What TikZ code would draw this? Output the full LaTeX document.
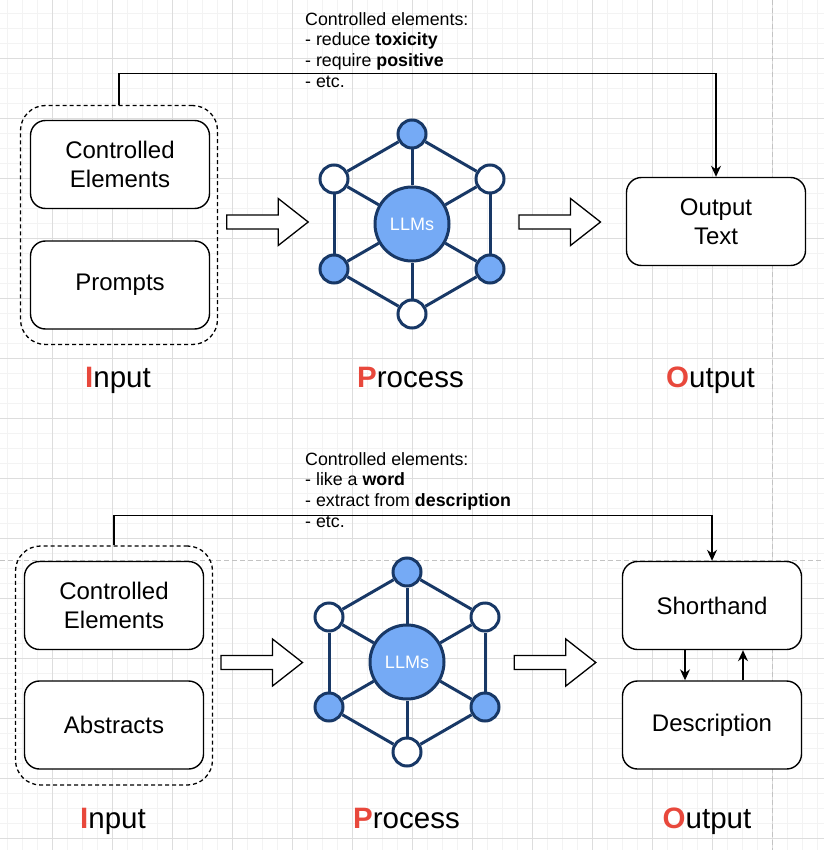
\documentclass[tikz,border=0pt]{standalone}
\usepackage{fontspec}
\setmainfont{Liberation Sans}
\usepackage{tikz}
\usetikzlibrary{positioning,arrows.meta}

\definecolor{netline}{RGB}{24,56,102}
\definecolor{netfill}{RGB}{117,170,245}
\definecolor{ipored}{RGB}{232,72,60}
\definecolor{gridminor}{RGB}{243,243,243}
\definecolor{gridmajor}{RGB}{221,221,221}
\definecolor{pagebreak}{RGB}{195,195,195}

\newcommand{\ipo}[1]{\textcolor{ipored}{\textbf{#1}}}

\tikzset{
	box/.style={draw, line width=1.4pt, rounded corners=15pt, fill=white,
		minimum width=179pt, minimum height=88pt, align=center,
		font=\fontsize{24}{29}\selectfont},
	group/.style={draw, line width=1.3pt, dash pattern=on 4pt off 3pt,
		rounded corners=25pt, minimum width=197pt, minimum height=239pt},
	neuron/.style={circle, draw=netline, line width=3pt, minimum size=28pt, inner sep=0pt},
	hub/.style={neuron, fill=netfill, minimum size=74pt, text=white,
		font=\fontsize{18}{20}\selectfont},
	net/.style={draw=netline, line width=3pt},
	conn/.style={line width=1.3pt},
	hollow/.style={draw, line width=1.3pt, fill=white, line join=miter},
	note/.style={align=left, inner sep=0pt, font=\fontsize{17.8}{20.8}\selectfont},
	stage/.style={inner sep=0pt, font=\fontsize{29.5}{32}\selectfont}
}

\begin{document}
\begin{tikzpicture}[x=1pt, y=-1pt, >={Stealth[length=11pt,width=10pt]}]
	\useasboundingbox (0,0) rectangle (824,850);
	
	% grid
	\foreach \gx in {7.3,22.3,...,824}
	\draw [gridminor, line width=1pt] (\gx,0) -- (\gx,850);
	\foreach \gy in {13.3,28.3,...,850}
	\draw [gridminor, line width=1pt] (0,\gy) -- (824,\gy);
	\foreach \gx in {52.3,112.3,...,824}
	\draw [gridmajor, line width=1pt] (\gx,0) -- (\gx,850);
	\foreach \gy in {58.3,118.3,...,850}
	\draw [gridmajor, line width=1pt] (0,\gy) -- (824,\gy);
	\draw [pagebreak, line width=1pt, dash pattern=on 5pt off 3pt] (772.5,0) -- (772.5,850);
	\draw [pagebreak, line width=1pt, dash pattern=on 5pt off 3pt] (0,560.5) -- (824,560.5);
	
	% inputs
	\node [group] (top-in) at (119,225) {};
	\node [box] (top-ctrl) at (120,164.5) {Controlled\\Elements};
	\node [box] (top-prompt) at (120,285) {Prompts};
	\node [group] (bot-in) at (114,665.5) {};
	\node [box] (bot-ctrl) at (114,605.5) {Controlled\\Elements};
	\node [box] (bot-abs) at (114,725) {Abstracts};
	
	% outputs
	\node [box] (top-out) at (716,221.5) {Output\\Text};
	\node [box] (bot-short) at (712,605.5) {Shorthand};
	\node [box] (bot-desc) at (712,725) {Description};
	
	% LLM networks
	\foreach \p/\cx/\cy in {top/412/224, bot/407/662} {
		\node [hub] (\p-llm) at (\cx,\cy) {LLMs};
		\foreach \dx/\dy/\f [count=\i] in {0/-90/netfill, -78/-45/white, -78/45/netfill,
			0/90/white, 78/45/netfill, 78/-45/white}
		\node [neuron, fill=\f] (\p-n\i) at ({\cx+\dx},{\cy+\dy}) {};
		\foreach \i [evaluate=\i as \j using {int(mod(\i,6)+1)}] in {1,...,6} {
			\draw [net] (\p-n\i) -- (\p-n\j);
			\draw [net] (\p-llm) -- (\p-n\i);
		}
	}
	
	% hollow arrows
	\foreach \ax/\ay in {226.7/222, 519/222, 221/662.5, 514.3/662.5}
	\draw [hollow] (\ax,{\ay-7}) -- ++(51.5,0) -- ++(0,-16.5) -- ++(30,23.5)
	-- ++(-30,23.5) -- ++(0,-16.5) -- ++(-51.5,0) -- cycle;
	
	% controlled elements
	\draw [conn, ->] (top-in.north) -- ++(0,-31) -| (top-out.north);
	\draw [conn, ->] (bot-in.north) -- ++(0,-30) -| (bot-short.north);
	\draw [conn, ->] ([xshift=-27pt]bot-short.south) -- ([xshift=-27pt]bot-desc.north);
	\draw [conn, ->] ([xshift=31pt]bot-desc.north) -- ([xshift=31pt]bot-short.south);
	
	\node [note, anchor=north west] (top-note) at (305,12)
	{Controlled elements:\\- reduce \textbf{toxicity}\\- require \textbf{positive}\\- etc.};
	\node [note, anchor=north west] (bot-note) at (305,452)
	{Controlled elements:\\- like a \textbf{word}\\- extract from \textbf{description}\\- etc.};
	
	% stage labels
	\foreach \p/\dy/\xi/\xp/\xo in {top/0/118/410.5/710.5, bot/441/113/406.5/707} {
		\node [stage, anchor=base] (\p-input) at (\xi,387+\dy) {\ipo{I}nput};
		\node [stage, anchor=base] (\p-process) at (\xp,387+\dy) {\ipo{P}rocess};
		\node [stage, anchor=base] (\p-output) at (\xo,387+\dy) {\ipo{O}utput};
	}
	
\end{tikzpicture}
\end{document}
